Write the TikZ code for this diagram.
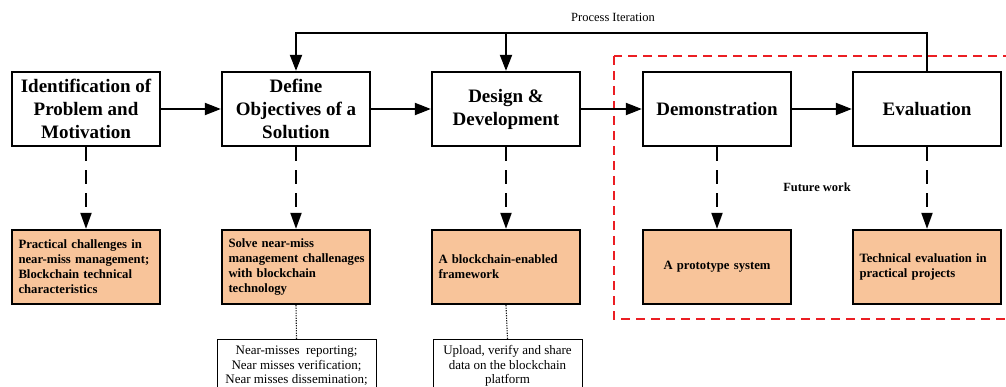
\documentclass[tikz,border=0pt]{standalone}
\usepackage{fontspec}
\setmainfont{Liberation Serif}
\usetikzlibrary{arrows.meta}
\definecolor{resultfill}{RGB}{248,196,154}
\definecolor{futurered}{RGB}{235,30,35}
% bold outcome text: explicit line breaks only, no hyphenation
\newcommand\outcomefont{\bfseries\fontsize{12.7}{15}\selectfont
  \hyphenpenalty=10000\relax\exhyphenpenalty=10000\relax\hfuzz=30pt\relax}
\begin{document}
\begin{tikzpicture}[x=1pt,y=-1pt,
  stage/.style={draw, line width=2.3pt, minimum width=148pt, minimum height=74pt,
    inner sep=0pt, align=center, font=\bfseries\fontsize{19}{23}\selectfont},
  result/.style={draw, line width=2.3pt, fill=resultfill, minimum width=148pt,
    minimum height=74pt, text width=135pt, inner sep=0pt, align=left,
    font=\outcomefont},
  note/.style={draw, line width=0.8pt, anchor=north, minimum height=53pt,
    inner xsep=3pt, inner ysep=0pt, align=center, font=\fontsize{13}{14.5}\selectfont},
  flow/.style={line width=2pt, -{Triangle[length=16pt,width=12pt]}},
  dflow/.style={line width=2pt, dash pattern=on 14pt off 9pt,
    -{Triangle[length=16pt,width=11pt]}},
  link/.style={line width=1.1pt, black!90, dash pattern=on 1.2pt off 1.3pt},
  future/.style={draw=futurered, line width=1.1pt, dash pattern=on 9pt off 6pt},
  caption/.style={font=\fontsize{12.5}{14}\selectfont}
]
\useasboundingbox (0,0) rectangle (1006,387);
\clip (0,0) rectangle (1006,387);

% research stages
\node[stage] (s1) at (86,109)  {Identification of\\Problem and\\Motivation};
\node[stage] (s2) at (296,109) {Define\\Objectives of a\\Solution};
\node[stage] (s3) at (506,109) {Design \&\\Development};
\node[stage] (s4) at (717,109) {Demonstration};
\node[stage] (s5) at (927,109) {Evaluation};

% outcomes of each stage
\node[result] (r1) at (86,267)  {Practical challenges in\\near-miss management;\\Blockchain technical\\characteristics};
\node[result] (r2) at (296,267) {Solve near-miss\\management~challenages\\with blockchain\\technology};
\node[result] (r3) at (506,267) {A blockchain-enabled\\framework};
\node[result, align=center] (r4) at (717,267) {A prototype system};
\node[result] (r5) at (927,267) {Technical evaluation in\\practical projects};

% details
\node[note, minimum width=159pt] (n2) at (296.5,339) {Near-misses~ reporting;\\Near misses verification;\\Near misses dissemination;};
\node[note, minimum width=149pt] (n3) at (507.5,339) {Upload, verify and share\\data on the blockchain\\platform};

% future work region
\draw[future] (614,56) rectangle (1030,319);
\node[caption, font=\bfseries\fontsize{12.5}{14}\selectfont] (fw) at (817,187) {Future work};

% main sequence
\draw[flow] (s1) -- (s2);
\draw[flow] (s2) -- (s3);
\draw[flow] (s3) -- (s4);
\draw[flow] (s4) -- (s5);

% iteration loop
\coordinate (iter) at (0,33);
\draw[flow] (s5.north) -- (s5.north |- iter) -| (s2.north);
\draw[flow] (s3.north |- iter) -- (s3.north);
\node[caption] (pi) at (613,17) {Process Iteration};

% stage outcomes
\foreach \i in {1,...,5} {
  \draw[dflow] (s\i.south) -- (r\i.north);
}
\draw[link] (r2.south) -- (n2.north);
\draw[link] (r3.south) -- (n3.north);
\end{tikzpicture}
\end{document}
